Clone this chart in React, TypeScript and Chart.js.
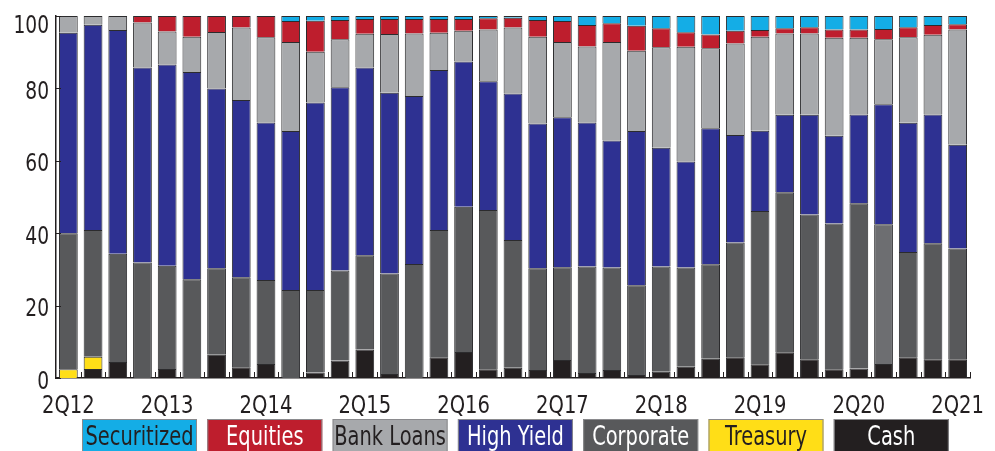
import React, { useEffect, useRef } from 'react';
import { Chart, registerables } from 'chart.js';

Chart.register(...registerables);

const categories = [
  '2Q12', '3Q12', '4Q12', '1Q13', '2Q13', '3Q13', '4Q13', '1Q14', '2Q14', '3Q14', '4Q14', '1Q15',
  '2Q15', '3Q15', '4Q15', '1Q16', '2Q16', '3Q16', '4Q16', '1Q17', '2Q17', '3Q17', '4Q17', '1Q18',
  '2Q18', '3Q18', '4Q18', '1Q19', '2Q19', '3Q19', '4Q19', '1Q20', '2Q20', '3Q20', '4Q20', '1Q21', '2Q21',
];

const cash = [0, 2.5, 4.4, 0, 2.5, 0, 6.4, 3.0, 3.9, 0, 1.5, 4.8, 7.9, 1.1, 0, 5.7, 7.2, 2.4, 2.8, 2.2, 5.0, 1.4, 2.2, 0.8, 1.7, 3.1, 5.3, 5.7, 3.8, 7.1, 5.2, 2.4, 2.6, 3.9, 5.7, 5.2, 5.2];
const treasury = [2.4, 3.4, 0, 0, 0, 0, 0, 0, 0, 0, 0, 0, 0, 0, 0, 0, 0, 0, 0, 0, 0, 0, 0, 0, 0, 0, 0, 0, 0, 0, 0, 0, 0, 0, 0, 0, 0];
const corporate = [37.6, 35.0, 29.9, 31.9, 28.5, 27.3, 23.9, 24.8, 23.2, 24.3, 22.8, 24.9, 26.0, 27.8, 31.5, 35.2, 40.1, 44.0, 35.3, 28.1, 25.6, 29.4, 28.3, 24.8, 29.1, 27.4, 26.1, 31.7, 42.3, 44.2, 40.0, 40.3, 45.7, 38.6, 29.1, 32.0, 30.6];
const highYield = [55.4, 56.7, 61.8, 53.9, 55.6, 57.2, 49.7, 49.0, 43.5, 43.9, 51.8, 50.6, 51.9, 49.9, 46.4, 44.2, 40.1, 35.6, 40.5, 40.0, 41.4, 39.8, 35.1, 42.6, 32.8, 29.3, 37.6, 29.7, 22.2, 21.4, 27.5, 24.2, 24.5, 33.1, 35.7, 35.6, 28.6];
const bankLoans = [4.6, 2.4, 3.9, 12.4, 9.1, 9.8, 15.6, 20.0, 23.5, 24.6, 14.0, 13.3, 9.3, 16.2, 17.3, 10.3, 8.5, 14.3, 18.2, 24.0, 20.8, 21.0, 27.2, 22.2, 27.8, 31.7, 22.1, 25.3, 26.0, 22.5, 22.5, 27.1, 21.2, 18.0, 23.6, 22.0, 31.9];
const equities = [0, 0, 0, 1.8, 4.3, 5.7, 4.4, 3.2, 5.9, 5.8, 8.6, 5.3, 4.1, 4.2, 4.0, 3.8, 3.3, 3.1, 2.7, 4.6, 5.8, 5.9, 5.2, 6.9, 5.2, 4.0, 3.8, 3.5, 1.8, 1.4, 1.7, 2.3, 2.3, 2.8, 2.8, 2.7, 1.4];
const securitized = [0, 0, 0, 0, 0, 0, 0, 0, 0, 1.4, 1.3, 1.1, 0.8, 0.8, 0.8, 0.8, 0.8, 0.6, 0.5, 1.1, 1.4, 2.5, 2.0, 2.7, 3.4, 4.5, 5.1, 4.1, 3.9, 3.4, 3.1, 3.7, 3.7, 3.6, 3.1, 2.5, 2.3];

const yTicks = [0, 20, 40, 60, 80, 100];

const FONT = "'DejaVu Sans Condensed', 'Liberation Sans Narrow', sans-serif";
const INK = '#231f20';

const seriesDefs = [
  { label: 'Cash', data: cash, color: '#231f20', text: '#ffffff' },
  { label: 'Treasury', data: treasury, color: '#ffde17', text: '#231f20' },
  { label: 'Corporate', data: corporate, color: '#58595b', text: '#ffffff' },
  { label: 'High Yield', data: highYield, color: '#2e3192', text: '#ffffff' },
  { label: 'Bank Loans', data: bankLoans, color: '#a7a9ac', text: '#231f20' },
  { label: 'Equities', data: equities, color: '#be1e2d', text: '#ffffff' },
  { label: 'Securitized', data: securitized, color: '#14ade6', text: '#231f20' },
];

const axisMarksPlugin = {
  id: 'axisMarks',
  afterDatasetsDraw(chart: any) {
    const { ctx, chartArea } = chart;
    const yScale = chart.scales.y;
    const n = categories.length;
    const w = (chartArea.right - chartArea.left) / n;
    ctx.save();
    ctx.strokeStyle = INK;
    ctx.lineWidth = 1;
    for (let i = 1; i <= n; i++) {
      const x = Math.round(chartArea.left + i * w) + 0.5;
      ctx.beginPath();
      ctx.moveTo(x, chartArea.bottom);
      ctx.lineTo(x, chartArea.bottom - 6);
      ctx.stroke();
    }
    yTicks.forEach((v) => {
      const y = Math.round(yScale.getPixelForValue(v)) + 0.5;
      ctx.beginPath();
      ctx.moveTo(chartArea.left, y);
      ctx.lineTo(chartArea.left + 5, y);
      ctx.stroke();
    });
    ctx.restore();
  },
};

const axisLabelsPlugin = {
  id: 'axisLabels',
  afterDraw(chart: any) {
    const { ctx, chartArea, scales } = chart;
    ctx.save();
    ctx.fillStyle = INK;
    ctx.font = `25px ${FONT}`;
    ctx.textBaseline = 'alphabetic';
    categories.forEach((c, i) => {
      if (i % 4 !== 0) return;
      const x = scales.x.getPixelForValue(i);
      ctx.save();
      ctx.translate(x, 412.5);
      ctx.scale(0.87, 1);
      ctx.textAlign = 'center';
      ctx.fillText(c, 0, 0);
      ctx.restore();
    });
    yTicks.forEach((v) => {
      const y = scales.y.getPixelForValue(v);
      const cy = Math.max(y + 1.5, 24);
      ctx.save();
      ctx.translate(chartArea.left - 7, cy + 9);
      ctx.scale(0.83, 1);
      ctx.textAlign = 'right';
      ctx.fillText(String(v), 0, 0);
      ctx.restore();
    });
    ctx.restore();
  },
};

const boxLegendPlugin = {
  id: 'boxLegend',
  afterDraw(chart: any) {
    const { ctx } = chart;
    const items = [...seriesDefs].reverse();
    ctx.save();
    ctx.font = `27px ${FONT}`;
    ctx.textAlign = 'center';
    ctx.textBaseline = 'alphabetic';
    items.forEach((it, i) => {
      const x = 82 + i * 125.3;
      const y = 419;
      const bw = 115;
      const bh = 40;
      ctx.fillStyle = it.color;
      ctx.fillRect(x, y, bw, bh);
      ctx.strokeStyle = '#8a8a8d';
      ctx.lineWidth = 1;
      ctx.strokeRect(x + 0.5, y + 0.5, bw - 1, bh - 1);
      ctx.fillStyle = it.text;
      ctx.save();
      ctx.translate(x + bw / 2, 445);
      ctx.scale(0.8, 1);
      ctx.fillText(it.label, 0, 0);
      ctx.restore();
    });
    ctx.restore();
  },
};

export default function App() {
  const canvasRef = useRef<HTMLCanvasElement | null>(null);

  useEffect(() => {
    document.body.style.margin = '0';
    const canvas = canvasRef.current;
    if (!canvas) return;
    const datasets = seriesDefs.map((s) => ({
      label: s.label,
      data: s.data.map((v) => (v === 0 ? null : v)),
      backgroundColor:
        s.label === 'Corporate'
          ? s.data.map((_, i) => (i === 33 ? '#6d6e71' : s.color))
          : s.color,
      borderColor: '#2b2b2d',
      borderWidth: 1,
      barPercentage: 0.76,
      categoryPercentage: 1,
    }));

    const chart = new Chart(canvas, {
      type: 'bar',
      data: { labels: categories, datasets },
      options: {
        responsive: false,
        animation: false,
        devicePixelRatio: 1,
        layout: { padding: { top: 16, right: 25, bottom: 0, left: 0 } },
        plugins: {
          legend: { display: false },
          tooltip: { enabled: false },
        },
        scales: {
          x: {
            stacked: true,
            grid: { display: false },
            border: { display: true, color: INK, width: 1.5 },
            ticks: { display: false },
            afterFit: (scale: any) => {
              scale.height = 73;
            },
          },
          y: {
            stacked: true,
            min: 0,
            max: 100,
            grid: { display: false },
            border: { display: true, color: INK, width: 1.5 },
            ticks: { display: false, stepSize: 20 },
            afterFit: (scale: any) => {
              scale.width = 56;
            },
          },
        },
      },
      plugins: [axisMarksPlugin, axisLabelsPlugin, boxLegendPlugin],
    });
    return () => chart.destroy();
  }, []);

  return (
    <div style={{ position: 'fixed', left: 0, top: 0, width: 995, height: 451, background: '#fff' }}>
      <canvas ref={canvasRef} width={995} height={451} />
    </div>
  );
}
